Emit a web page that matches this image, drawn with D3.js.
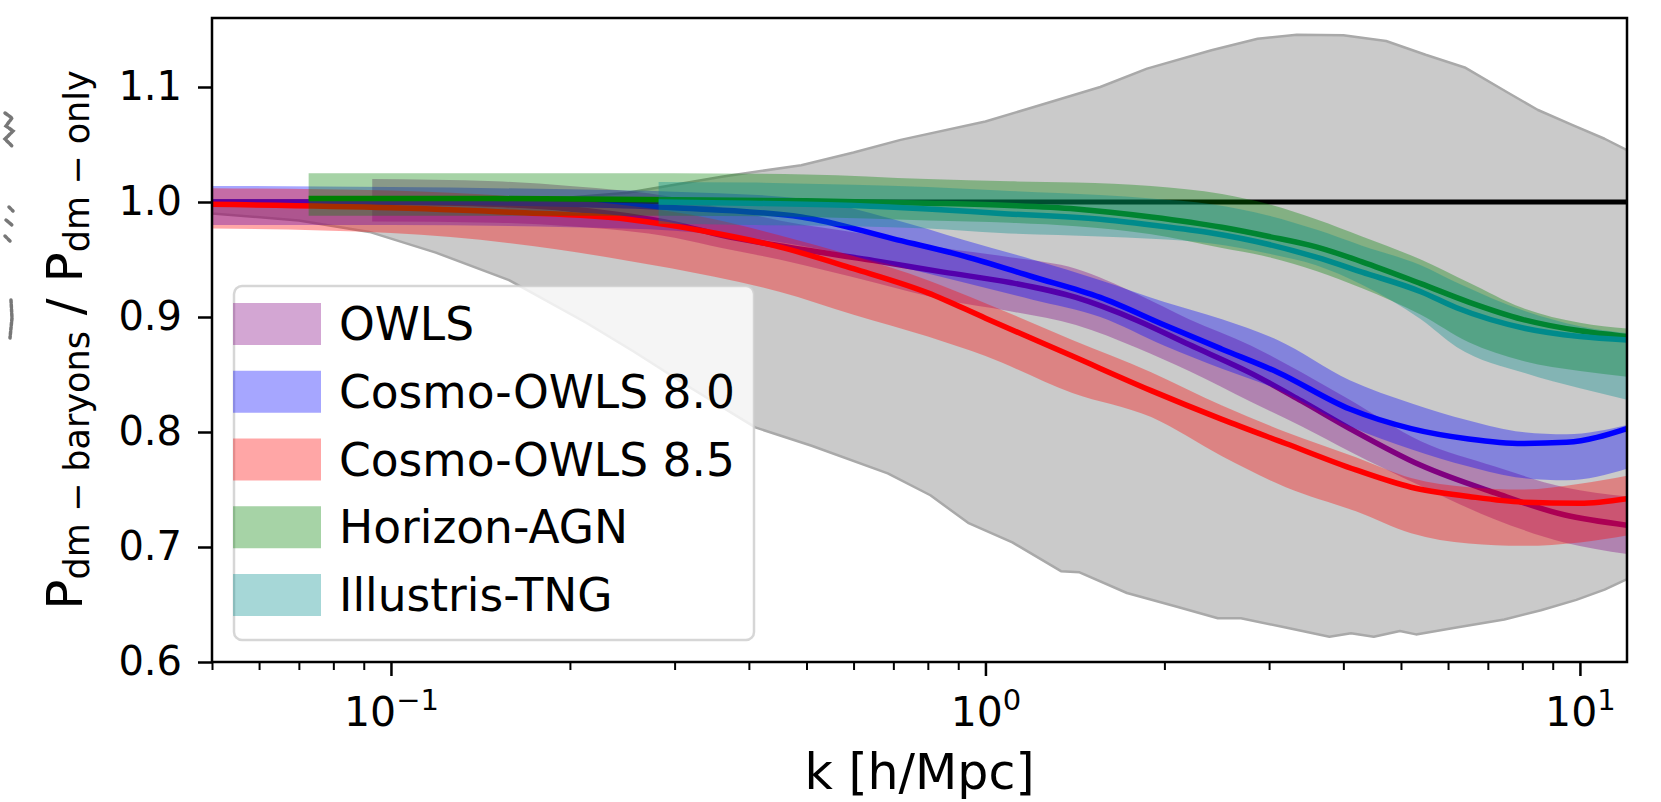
<!DOCTYPE html>
<html>
<head>
<meta charset="utf-8">
<script src="https://cdn.jsdelivr.net/npm/d3@7"></script>
<style>
  body { margin: 0; background: #ffffff; }
  svg { display: block; }
  text { font-family: "DejaVu Sans", sans-serif; fill: #000; }
</style>
</head>
<body>
<svg id="chart" width="1661" height="802"></svg>
<script>
// ---- envelope of all models (grey region) ----
const envUpperK = [0.05, 0.1, 0.15, 0.2, 0.25, 0.36, 0.49, 0.6, 0.72, 1.0, 1.25, 1.56, 1.87, 2.4, 2.87, 3.34, 4.0, 4.72, 5.5, 6.4, 7.57, 8.5, 9.7, 11, 12];
const envUpperV = [1.000, 1.000, 1.002, 1.004, 1.008, 1.022, 1.032, 1.043, 1.054, 1.070, 1.085, 1.100, 1.116, 1.132, 1.142, 1.1455, 1.145, 1.140, 1.128, 1.117, 1.095, 1.080, 1.067, 1.055, 1.045];
const envLowerK = [0.05, 0.07, 0.092, 0.119, 0.158, 0.213, 0.256, 0.32, 0.41, 0.51, 0.685, 0.808, 0.935, 1.11, 1.34, 1.44, 1.73, 2.1, 2.46, 2.69, 3.2, 3.79, 4.12, 4.5, 4.98, 5.3, 6.2, 7.46, 8.6, 9.86, 11, 12];
const envLowerV = [0.990, 0.984, 0.974, 0.956, 0.932, 0.895, 0.870, 0.838, 0.804, 0.788, 0.764, 0.745, 0.721, 0.704, 0.679, 0.678, 0.660, 0.648, 0.638, 0.638, 0.630, 0.622, 0.625, 0.622, 0.627, 0.624, 0.630, 0.637, 0.645, 0.654, 0.663, 0.672];

// ---- OWLS ----
const owlsK   = [0.093, 0.15, 0.2, 0.3, 0.36, 0.45, 0.65, 0.85, 1.1, 1.42, 1.8, 2.2, 2.8, 3.4, 4.1, 5.4, 7.2, 9.4, 12];
const owlsMid = [1.000, 0.998, 0.994, 0.981, 0.971, 0.962, 0.949, 0.939, 0.930, 0.917, 0.897, 0.876, 0.851, 0.827, 0.803, 0.771, 0.747, 0.728, 0.719];
const owlsLo  = [0.983, 0.982, 0.979, 0.969, 0.960, 0.950, 0.930, 0.915, 0.905, 0.893, 0.873, 0.853, 0.826, 0.805, 0.783, 0.753, 0.724, 0.704, 0.694];
const owlsHi  = [1.020, 1.018, 1.014, 1.004, 0.995, 0.984, 0.971, 0.960, 0.952, 0.942, 0.920, 0.898, 0.875, 0.852, 0.828, 0.792, 0.770, 0.752, 0.744];

// ---- Cosmo-OWLS 8.0 ----
const c80K   = [0.05, 0.1, 0.2, 0.3, 0.49, 0.7, 0.92, 1.2, 1.56, 2.0, 2.5, 3.1, 4.1, 5.2, 6.5, 8.0, 9.5, 12];
const c80Mid = [1.000, 1.000, 0.998, 0.995, 0.987, 0.968, 0.953, 0.935, 0.917, 0.893, 0.872, 0.852, 0.820, 0.803, 0.794, 0.790, 0.791, 0.803];
const c80Lo  = [0.980, 0.980, 0.978, 0.975, 0.962, 0.945, 0.930, 0.915, 0.900, 0.875, 0.855, 0.837, 0.805, 0.785, 0.770, 0.760, 0.758, 0.768];
const c80Hi  = [1.014, 1.013, 1.011, 1.009, 1.003, 0.985, 0.967, 0.950, 0.932, 0.913, 0.898, 0.880, 0.845, 0.825, 0.810, 0.800, 0.798, 0.806];

// ---- Cosmo-OWLS 8.5 ----
const c85K   = [0.05, 0.1, 0.16, 0.25, 0.35, 0.45, 0.6, 0.8, 1.0, 1.4, 1.9, 2.5, 3.2, 4.2, 5.2, 6.5, 8.0, 10, 12];
const c85Mid = [0.998, 0.995, 0.991, 0.985, 0.973, 0.961, 0.942, 0.921, 0.899, 0.866, 0.836, 0.811, 0.790, 0.767, 0.752, 0.744, 0.739, 0.738, 0.742];
const c85Lo  = [0.977, 0.973, 0.964, 0.949, 0.935, 0.922, 0.902, 0.883, 0.866, 0.834, 0.813, 0.779, 0.752, 0.731, 0.712, 0.703, 0.701, 0.704, 0.710];
const c85Hi  = [1.012, 1.010, 1.005, 0.997, 0.985, 0.971, 0.953, 0.932, 0.912, 0.880, 0.852, 0.823, 0.800, 0.778, 0.760, 0.752, 0.750, 0.755, 0.762];

// ---- Horizon-AGN ----
const hagnK   = [0.0727, 0.15, 0.3, 0.5, 0.8, 1.1, 1.42, 1.9, 2.5, 3.0, 3.6, 4.3, 5.4, 6.5, 8.0, 10, 12];
const hagnMid = [1.003, 1.003, 1.002, 1.001, 0.999, 0.997, 0.994, 0.987, 0.978, 0.970, 0.961, 0.948, 0.929, 0.913, 0.898, 0.888, 0.883];
const hagnLo  = [0.988, 0.988, 0.988, 0.987, 0.984, 0.982, 0.979, 0.972, 0.960, 0.952, 0.940, 0.925, 0.902, 0.878, 0.862, 0.853, 0.848];
const hagnHi  = [1.025, 1.025, 1.025, 1.024, 1.020, 1.018, 1.017, 1.014, 1.007, 0.998, 0.985, 0.970, 0.950, 0.930, 0.908, 0.895, 0.890];

// ---- Illustris-TNG ----
const tngK   = [0.282, 0.4, 0.6, 0.8, 1.06, 1.56, 1.9, 2.4, 3.0, 3.6, 4.3, 5.4, 6.2, 8.1, 10, 12];
const tngMid = [1.000, 0.999, 0.997, 0.994, 0.990, 0.985, 0.980, 0.973, 0.963, 0.952, 0.939, 0.922, 0.908, 0.890, 0.883, 0.880];
const tngLo  = [0.981, 0.980, 0.979, 0.977, 0.973, 0.970, 0.968, 0.964, 0.955, 0.945, 0.928, 0.898, 0.874, 0.851, 0.838, 0.828];
const tngHi  = [1.0175, 1.017, 1.015, 1.013, 1.010, 1.006, 1.003, 0.998, 0.988, 0.976, 0.962, 0.945, 0.930, 0.905, 0.892, 0.886];

const seriesNames  = ["OWLS", "Cosmo-OWLS 8.0", "Cosmo-OWLS 8.5", "Horizon-AGN", "Illustris-TNG"];
const seriesColors = ["#800080", "#0000ff", "#ff0000", "#008000", "#008b8b"];

const yTicks = [0.6, 0.7, 0.8, 0.9, 1.0, 1.1];
const xMajor = [0.1, 1, 10];
const xMajorExp = ["\u22121", "0", "1"];
const xMinor = [0.05, 0.06, 0.07, 0.08, 0.09, 0.2, 0.3, 0.4, 0.5, 0.6, 0.7, 0.8, 0.9, 2, 3, 4, 5, 6, 7, 8, 9];

const series = [
  { k: owlsK, mid: owlsMid, lo: owlsLo, hi: owlsHi },
  { k: c80K,  mid: c80Mid,  lo: c80Lo,  hi: c80Hi },
  { k: c85K,  mid: c85Mid,  lo: c85Lo,  hi: c85Hi },
  { k: hagnK, mid: hagnMid, lo: hagnLo, hi: hagnHi },
  { k: tngK,  mid: tngMid,  lo: tngLo,  hi: tngHi }
].map((s, i) => ({ ...s, name: seriesNames[i], color: seriesColors[i] }));

// ---- layout ----
const plot = { left: 212, right: 1627, top: 18, bottom: 662 };
const svg = d3.select("#chart");

const x = d3.scaleLog().domain([0.05, 12]).range([plot.left, plot.right]);
const y = d3.scaleLinear().domain([0.6, 1.16]).range([plot.bottom, plot.top]);

svg.append("defs").append("clipPath").attr("id", "plotClip")
  .append("rect")
  .attr("x", plot.left).attr("y", plot.top)
  .attr("width", plot.right - plot.left).attr("height", plot.bottom - plot.top);

// faint fragments of a neighbouring panel's label, cut by the left edge
const frag = svg.append("g").attr("fill", "none").attr("stroke", "#777")
  .attr("stroke-width", 3.5).attr("stroke-linecap", "round").attr("stroke-dasharray", "3 1.5");
frag.append("path").attr("d", "M5,113 L12,118 L6,126 L13,131 L5,139 L12,146");
frag.append("path").attr("d", "M9,207 L13,211 M6,220 L12,225 M5,236 L10,241");
frag.append("path").attr("d", "M11,300 L12,318 L10,338");

const area = svg.append("g").attr("clip-path", "url(#plotClip)");

// grey envelope: upper edge left to right, lower edge right to left
const envPts = envUpperK.map((k, i) => [x(k), y(envUpperV[i])])
  .concat(envLowerK.map((k, i) => [x(k), y(envLowerV[i])]).reverse());
area.append("path")
  .attr("d", d3.line()(envPts) + "Z")
  .attr("fill", "#cacaca")
  .attr("stroke", "#a9a9a9")
  .attr("stroke-width", 2.5)
  .attr("stroke-linejoin", "round");

// reference ratio of unity
area.append("line")
  .attr("x1", plot.left).attr("x2", plot.right)
  .attr("y1", y(1)).attr("y2", y(1))
  .attr("stroke", "#000").attr("stroke-width", 5);

const bandGen = d3.area()
  .x(d => x(d.k)).y0(d => y(d.lo)).y1(d => y(d.hi))
  .curve(d3.curveMonotoneX);
const lineGen = d3.line()
  .x(d => x(d.k)).y(d => y(d.v))
  .curve(d3.curveMonotoneX);

series.forEach(s => {
  const pts = s.k.map((k, i) => ({ k, lo: s.lo[i], hi: s.hi[i], v: s.mid[i] }));
  area.append("path")
    .attr("d", bandGen(pts))
    .attr("fill", s.color)
    .attr("fill-opacity", 0.35);
  area.append("path")
    .attr("d", lineGen(pts))
    .attr("fill", "none")
    .attr("stroke", s.color)
    .attr("stroke-width", 5.5)
    .attr("stroke-linejoin", "round");
});

// ---- legend ----
const leg = svg.append("g");
leg.append("rect")
  .attr("x", 234).attr("y", 286).attr("width", 520).attr("height", 354)
  .attr("rx", 8).attr("ry", 8)
  .attr("fill", "#ffffff").attr("fill-opacity", 0.8)
  .attr("stroke", "#cccccc").attr("stroke-opacity", 0.8).attr("stroke-width", 2.5);
const legY = d3.scalePoint().domain(seriesNames).range([324, 595]);
seriesNames.forEach((name, i) => {
  const cy = legY(name);
  leg.append("rect")
    .attr("x", 233).attr("y", cy - 21).attr("width", 88).attr("height", 42)
    .attr("fill", seriesColors[i]).attr("fill-opacity", 0.35);
  leg.append("text")
    .attr("x", 339).attr("y", cy + 16)
    .style("font-size", "45.5px")
    .text(name);
});

// ---- axes ----
const yAxis = svg.append("g")
  .attr("transform", `translate(${plot.left},0)`)
  .call(d3.axisLeft(y).tickValues(yTicks).tickSize(14).tickPadding(16).tickFormat(d3.format(".1f")));
yAxis.select(".domain").remove();
yAxis.selectAll(".tick line").attr("stroke", "#000").attr("stroke-width", 2.5);
yAxis.selectAll(".tick text").style("font-size", "40px").attr("font-family", null);

const xAxisMinor = svg.append("g")
  .attr("transform", `translate(0,${plot.bottom})`)
  .call(d3.axisBottom(x).tickValues(xMinor).tickSize(8).tickFormat(""));
xAxisMinor.select(".domain").remove();
xAxisMinor.selectAll(".tick line").attr("stroke", "#000").attr("stroke-width", 2);

const xAxis = svg.append("g")
  .attr("transform", `translate(0,${plot.bottom})`)
  .call(d3.axisBottom(x).tickValues(xMajor).tickSize(14).tickFormat(""));
xAxis.select(".domain").remove();
xAxis.selectAll(".tick line").attr("stroke", "#000").attr("stroke-width", 2.5);
xAxis.selectAll(".tick").each(function (d, i) {
  const t = d3.select(this).append("text")
    .attr("y", 64).attr("text-anchor", "middle")
    .style("font-size", "41px");
  t.append("tspan").text("10");
  t.append("tspan").attr("dy", -16).style("font-size", "29px").text(xMajorExp[i]);
});

// frame
svg.append("rect")
  .attr("x", plot.left).attr("y", plot.top)
  .attr("width", plot.right - plot.left).attr("height", plot.bottom - plot.top)
  .attr("fill", "none").attr("stroke", "#000").attr("stroke-width", 2.5);

// ---- axis titles ----
svg.append("text")
  .attr("x", (plot.left + plot.right) / 2).attr("y", 789)
  .attr("text-anchor", "middle")
  .style("font-size", "49px")
  .text("k [h/Mpc]");

const yl = svg.append("text")
  .attr("transform", `translate(82,${(plot.top + plot.bottom) / 2}) rotate(-90)`)
  .attr("text-anchor", "middle")
  .style("font-size", "50px");
yl.append("tspan").text("P");
yl.append("tspan").attr("dy", 7).style("font-size", "35px").text("dm \u2212 baryons");
yl.append("tspan").attr("dy", -7).text(" / P");
yl.append("tspan").attr("dy", 7).style("font-size", "35px").text("dm \u2212 only");
</script>
</body>
</html>
